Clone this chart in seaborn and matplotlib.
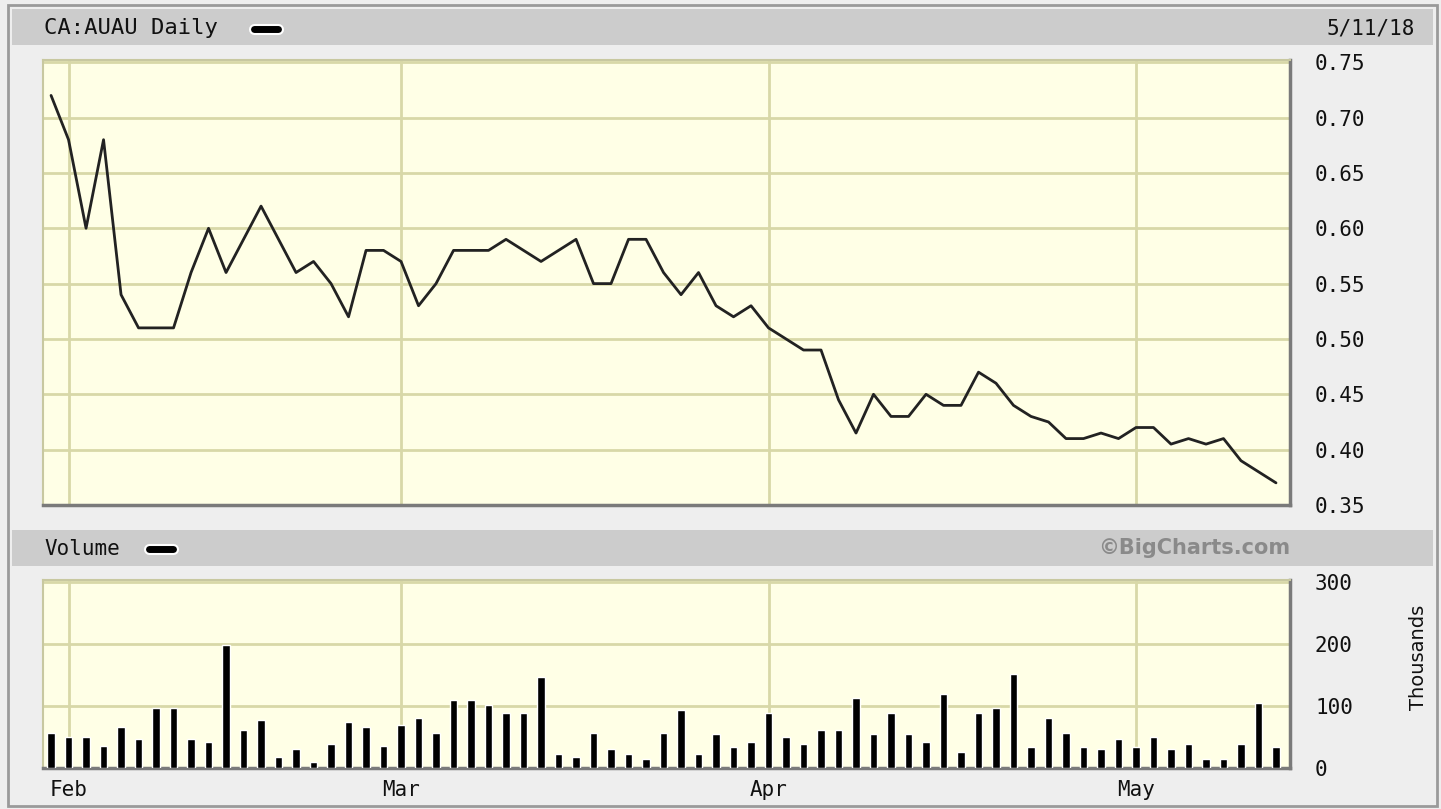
import numpy as np
import pandas as pd
import seaborn as sns
import matplotlib.pyplot as plt
from matplotlib.patches import Rectangle
from matplotlib.lines import Line2D
import matplotlib.patheffects as pe

# daily closes (CAD) and volume (thousands), Jan 31 - May 11 2018
close = [0.72, 0.68, 0.60, 0.68, 0.54, 0.51, 0.51, 0.51, 0.56, 0.60,
         0.56, 0.59, 0.62, 0.59, 0.56, 0.57, 0.55, 0.52, 0.58, 0.58,
         0.57, 0.53, 0.55, 0.58, 0.58, 0.58, 0.59, 0.58, 0.57, 0.58,
         0.59, 0.55, 0.55, 0.59, 0.59, 0.56, 0.54, 0.56, 0.53, 0.52,
         0.53, 0.51, 0.50, 0.49, 0.49, 0.445, 0.415, 0.45, 0.43, 0.43,
         0.45, 0.44, 0.44, 0.47, 0.46, 0.44, 0.43, 0.425, 0.41, 0.41,
         0.415, 0.41, 0.42, 0.42, 0.405, 0.41, 0.405, 0.41, 0.39, 0.38,
         0.37]
volume = [57, 50, 50, 35, 66, 46, 97, 97, 46, 42,
          199, 62, 78, 18, 30, 10, 38, 74, 66, 35,
          69, 81, 57, 109, 109, 101, 89, 89, 147, 22,
          18, 57, 30, 22, 15, 57, 93, 22, 54, 34,
          42, 89, 50, 38, 62, 62, 113, 54, 89, 54,
          42, 120, 26, 89, 97, 152, 34, 81, 57, 34,
          30, 46, 34, 50, 30, 38, 15, 15, 38, 105,
          34]
holidays = ["2018-02-19", "2018-03-30"]
price_ticks = [0.35, 0.40, 0.45, 0.50, 0.55, 0.60, 0.65, 0.70, 0.75]
vol_ticks = [0, 100, 200, 300]

dates = pd.bdate_range("2018-01-31", "2018-05-11")
dates = dates[~dates.isin(pd.to_datetime(holidays))]
df = pd.DataFrame({"day": np.arange(len(dates)), "close": close, "volume": volume})
months = pd.Series(dates.month)
month_idx = list(np.where(months.diff() > 0)[0])
month_lbl = [dates[i].strftime("%b") for i in month_idx]

sns.set_style("white")
plt.rcParams["font.family"] = ["DejaVu Sans Mono", "DejaVu Sans"]

W, H = 1441, 809
fig = plt.figure(figsize=(W / 100, H / 100), dpi=100, facecolor="#eeeeee")

# frame and header bands
fig.patches.append(Rectangle((8 / W, 1 - 806 / H), 1429 / W, 801 / H, transform=fig.transFigure,
                             fill=False, edgecolor="#9a9a9a", lw=2))
for top in [9, 530]:
    fig.patches.append(Rectangle((12 / W, 1 - (top + 36) / H), 1421 / W, 36 / H,
                                 transform=fig.transFigure, facecolor="#cccccc", edgecolor="none"))

bg = "#ffffe6"
gridc = "#d8d8a8"
xlim = (-0.46, 70.8)

ax1 = fig.add_axes([43 / W, 1 - 505 / H, 1247 / W, 445 / H], facecolor=bg)
ax2 = fig.add_axes([43 / W, 1 - 768 / H, 1247 / W, 188 / H], facecolor=bg)

sns.lineplot(data=df, x="day", y="close", ax=ax1, color="#222222", lw=2, zorder=3)
sns.barplot(data=df, x="day", y="volume", ax=ax2, color="black", width=0.42,
            native_scale=True, saturation=1, zorder=3)

for ax, ticks, lim in [(ax1, price_ticks, (0.35, 0.752)), (ax2, vol_ticks, (0, 303))]:
    ax.set_xlim(xlim)
    ax.set_ylim(lim)
    ax.set_yticks(ticks)
    ax.set_xticks(month_idx)
    ax.grid(True, color=gridc, lw=2, zorder=0)
    ax.set_axisbelow(True)
    ax.yaxis.tick_right()
    ax.tick_params(length=0, labelsize=15, pad=18, colors="#111111")
    ax.set_xlabel("")
    ax.set_ylabel("")
    for s in ["top", "left"]:
        ax.spines[s].set_color("#c8c8a0")
        ax.spines[s].set_linewidth(1.5)
    for s in ["bottom", "right"]:
        ax.spines[s].set_color("#7a7a7a")
        ax.spines[s].set_linewidth(2.5)

ax1.set_yticklabels([f"{t:.2f}" for t in price_ticks])
ax1.set_xticklabels([])
ax2.set_yticklabels([str(t) for t in vol_ticks])
ax2.set_xticklabels(month_lbl)
ax2.tick_params(axis="x", pad=9)

# header texts
fig.text(44 / W, 1 - 28 / H, "CA:AUAU Daily", fontsize=16, va="center", ha="left", color="#111111")
fig.text(1415 / W, 1 - 28 / H, "5/11/18", fontsize=15, va="center", ha="right", color="#111111")
fig.text(44 / W, 1 - 549 / H, "Volume", fontsize=15, va="center", ha="left", color="#111111")
fig.text(1290 / W, 1 - 548 / H, "©BigCharts.com", fontsize=15, fontweight="bold", va="center",
         ha="right", color="#8a8a8a", family="DejaVu Sans")
fig.text(1418 / W, 1 - 657 / H, "Thousands", fontsize=14, rotation=90, va="center", ha="center",
         color="#111111", family="DejaVu Sans")

# legend swatches
for x0, y0 in [(254, 29), (149, 549)]:
    fig.add_artist(Line2D([x0 / W, (x0 + 24) / W], [1 - y0 / H, 1 - y0 / H], transform=fig.transFigure,
                          color="black", lw=5, solid_capstyle="round",
                          path_effects=[pe.Stroke(linewidth=8, foreground="white"), pe.Normal()]))

fig.savefig("out.png", dpi=100, facecolor=fig.get_facecolor())
